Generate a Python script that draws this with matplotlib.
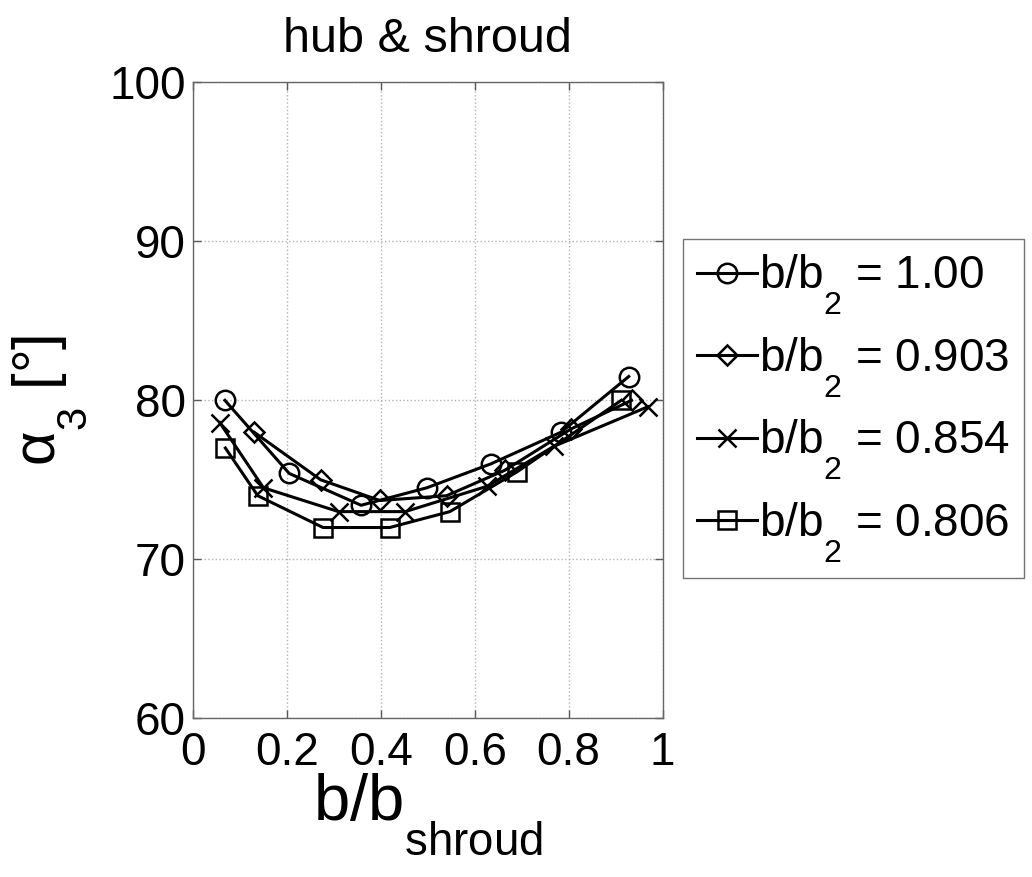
import matplotlib
matplotlib.use("Agg")
import matplotlib.pyplot as plt
import matplotlib._mathtext as mathtext_impl
from matplotlib.ticker import FixedLocator, FuncFormatter

plt.rcParams['font.family'] = ['Liberation Sans', 'DejaVu Sans']
plt.rcParams['mathtext.fontset'] = 'custom'
plt.rcParams['mathtext.rm'] = 'Liberation Sans'
plt.rcParams['mathtext.it'] = 'Liberation Sans'
# Deeper subscripts, in the style of classic TeX-interpreted labels
mathtext_impl.FontConstantsBase.sub1 = 1.05

# Flow angle alpha_3 across the passage width for four width ratios b/b2
labels = ['1.00', '0.903', '0.854', '0.806']

x_100 = [0.068, 0.205, 0.358, 0.498, 0.634, 0.784, 0.928]
y_100 = [80.0, 75.4, 73.4, 74.5, 76.0, 78.0, 81.5]

x_903 = [0.130, 0.272, 0.398, 0.540, 0.664, 0.805, 0.934]
y_903 = [78.0, 75.0, 73.7, 74.0, 75.6, 78.2, 80.0]

x_854 = [0.057, 0.150, 0.310, 0.452, 0.627, 0.768, 0.969]
y_854 = [78.6, 74.5, 73.0, 73.0, 74.6, 77.1, 79.6]

x_806 = [0.069, 0.138, 0.277, 0.419, 0.547, 0.690, 0.912]
y_806 = [77.0, 74.0, 72.0, 72.0, 73.0, 75.5, 80.0]

series = [(x_100, y_100, 'o', 14), (x_903, y_903, 'D', 10.5),
          (x_854, y_854, 'x', 13), (x_806, y_806, 's', 13)]

x_ticks = [0, 0.2, 0.4, 0.6, 0.8, 1.0]
y_ticks = [60, 70, 80, 90, 100]

fig = plt.figure(figsize=(10.32, 8.77), dpi=100)
ax = fig.add_axes([0.187, 0.181, 0.455, 0.725])

for (xs, ys, mk, ms), lab in zip(series, labels):
    ax.plot(xs, ys, color='black', lw=2.2, marker=mk, ms=ms,
            mfc='none', mec='black', mew=1.8,
            label=r'b/b$_2$ = ' + lab)

ax.set_xlim(0, 1)
ax.set_ylim(60, 100)
ax.xaxis.set_major_locator(FixedLocator(x_ticks))
ax.yaxis.set_major_locator(FixedLocator(y_ticks))
ax.xaxis.set_major_formatter(FuncFormatter(lambda v, p: '%g' % v))
ax.yaxis.set_major_formatter(FuncFormatter(lambda v, p: '%g' % v))

ax.grid(True, linestyle=':', color='0.7', linewidth=1.0)
ax.tick_params(direction='in', length=6, width=1, color='0.35',
               top=True, right=True, labelsize=33)
ax.tick_params(axis='x', pad=9)
ax.tick_params(axis='y', pad=5)
for sp in ax.spines.values():
    sp.set_color('0.4')
    sp.set_linewidth(1.0)

ax.set_title('hub & shroud', fontsize=35, pad=22)
ax.set_xlabel(r'b/b$_{\mathrm{shroud}}$', fontsize=47, labelpad=-3)
ax.set_ylabel(r'α$_3$ [°]', fontsize=43, labelpad=15)

leg = ax.legend(loc='upper left', bbox_to_anchor=(0.662, 0.7275),
                bbox_transform=fig.transFigure, borderaxespad=0,
                fontsize=33, handlelength=1.3, handletextpad=0.05,
                labelspacing=0.4, borderpad=0.3, fancybox=False,
                framealpha=1, edgecolor='0.45')
leg.get_frame().set_linewidth(1.0)

fig.savefig('out.png', dpi=100)
